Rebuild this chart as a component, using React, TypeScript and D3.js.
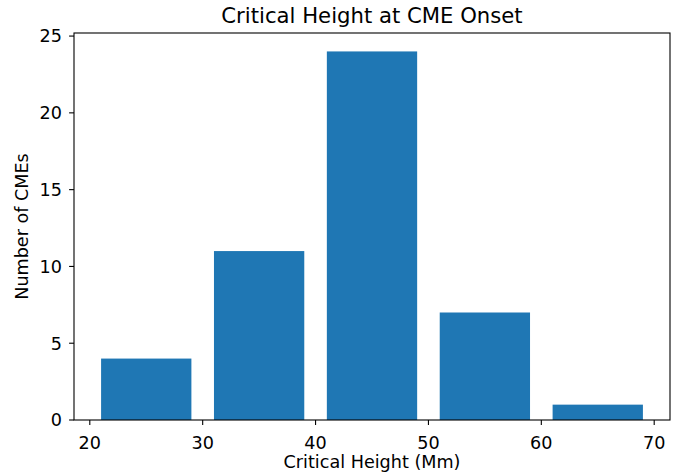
import React from "react";
import * as d3 from "d3";

const binStarts = [20, 30, 40, 50, 60];
const counts = [4, 11, 24, 7, 1];
const xTicks = [20, 30, 40, 50, 60, 70];
const yTicks = [0, 5, 10, 15, 20, 25];

export default function App() {
  const W = 683, H = 474;
  const left = 74, right = 670, top = 33, bottom = 420;
  const x = d3.scaleLinear().domain([18.6, 71.4]).range([left, right]);
  const y = d3.scaleLinear().domain([0, 25.2]).range([bottom, top]);
  const font = "DejaVu Sans, sans-serif";
  const binW = 10, rwidth = 0.8;
  const fs = 17.6;
  return (
    <svg width={W} height={H} style={{ position: "absolute", left: 0, top: 0 }} fontFamily={font}>
      <rect width={W} height={H} fill="white" />
      {binStarts.map((b, i) => (
        <rect key={i}
          x={x(b + binW * (1 - rwidth) / 2)}
          width={x(b + binW * (1 + rwidth) / 2) - x(b + binW * (1 - rwidth) / 2)}
          y={y(counts[i])}
          height={y(0) - y(counts[i])}
          fill="#1f77b4" />
      ))}
      <rect x={left} y={top} width={right - left} height={bottom - top} fill="none" stroke="black" strokeWidth={1.1} />
      {xTicks.map(t => (
        <g key={t}>
          <line x1={x(t)} x2={x(t)} y1={bottom} y2={bottom + 4.9} stroke="black" strokeWidth={1.1} />
          <text x={x(t)} y={448.5} textAnchor="middle" fontSize={fs}>{t}</text>
        </g>
      ))}
      {yTicks.map(t => (
        <g key={t}>
          <line x1={left - 4.9} x2={left} y1={y(t)} y2={y(t)} stroke="black" strokeWidth={1.1} />
          <text x={left - 12} y={y(t)} dy="0.36em" textAnchor="end" fontSize={fs}>{t}</text>
        </g>
      ))}
      <text x={(left + right) / 2} y={467.5} textAnchor="middle" fontSize={fs}>Critical Height (Mm)</text>
      <text transform={`translate(27.5,${(top + bottom) / 2}) rotate(-90)`} textAnchor="middle" fontSize={fs}>Number of CMEs</text>
      <text x={(left + right) / 2} y={22.5} textAnchor="middle" fontSize={21.2}>Critical Height at CME Onset</text>
    </svg>
  );
}
